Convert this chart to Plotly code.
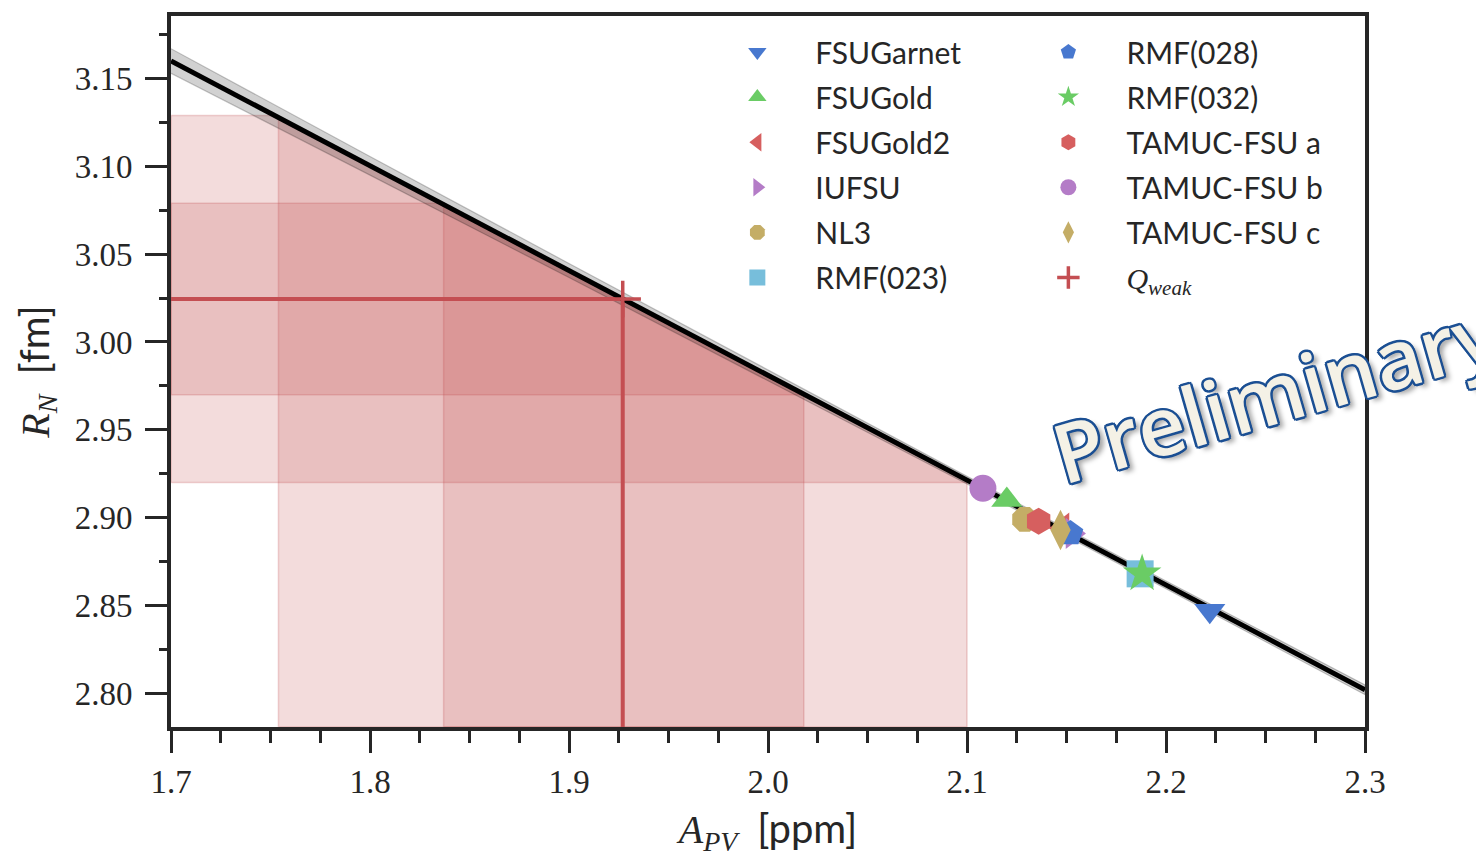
import numpy as np
import plotly.graph_objects as go

# ---------------- data ----------------
models = ["FSUGarnet", "FSUGold", "FSUGold2", "IUFSU", "NL3", "RMF(023)",
          "RMF(028)", "RMF(032)", "TAMUC-FSU a", "TAMUC-FSU b", "TAMUC-FSU c"]
apv_model = [2.222, 2.120, 2.148, 2.153, 2.129, 2.187, 2.152, 2.188, 2.136, 2.108, 2.147]
rn_model = [2.847, 2.910, 2.894, 2.891, 2.899, 2.868, 2.891, 2.868, 2.898, 2.9167, 2.893]
symbols = ["triangle-down", "triangle-up", "triangle-left", "triangle-right", "octagon",
           "square", "pentagon", "star", "hexagon", "circle", "diamond-tall"]
colors = ["#4878CF", "#6ACC65", "#D65F5F", "#B47CC7", "#C4AD66", "#77BEDB",
          "#4878CF", "#6ACC65", "#D65F5F", "#B47CC7", "#C4AD66"]

fit_x = [1.7, 1.8, 1.9, 2.0, 2.1, 2.2, 2.3]
fit_y = [3.1600, 3.1003, 3.0407, 2.9810, 2.9213, 2.8617, 2.8020]
fit_lo = [3.1530, 3.0950, 3.0367, 2.9781, 2.9191, 2.8595, 2.7992]
fit_hi = [3.1670, 3.1056, 3.0447, 2.9839, 2.9235, 2.8639, 2.8048]

qweak_apv = 1.927
qweak_rn = 3.0245
apv_1sig = [1.837, 2.018]
apv_2sig = [1.754, 2.100]
rn_1sig = [2.970, 3.079]
rn_2sig = [2.920, 3.129]

x_range = [1.7, 2.3]
y_range = [2.7808, 3.1856]

band_red = "196,78,82"
qcolor = "#C44E52"
ink = "#262626"

fig = go.Figure()


def line_at(x):
    return float(np.interp(x, fit_x, fit_y))


def x_at(y):
    return float(np.interp(y, fit_y[::-1], fit_x[::-1]))


# vertical bands (A_PV uncertainty) from bottom up to the fit line
for lo, hi in (apv_2sig, apv_1sig):
    fig.add_trace(go.Scatter(
        x=[lo, lo, hi, hi, lo],
        y=[y_range[0], line_at(lo), line_at(hi), y_range[0], y_range[0]],
        mode="lines", fill="toself", fillcolor=f"rgba({band_red},0.20)",
        line=dict(color=f"rgba({band_red},0.25)", width=1.5),
        showlegend=False, hoverinfo="skip"))

# horizontal bands (R_N uncertainty) from left up to the fit line
for lo, hi in (rn_2sig, rn_1sig):
    fig.add_trace(go.Scatter(
        x=[x_range[0], x_at(lo), x_at(hi), x_range[0], x_range[0]],
        y=[lo, lo, hi, hi, lo],
        mode="lines", fill="toself", fillcolor=f"rgba({band_red},0.20)",
        line=dict(color=f"rgba({band_red},0.25)", width=1.5),
        showlegend=False, hoverinfo="skip"))

# fit confidence band
fig.add_trace(go.Scatter(
    x=fit_x + fit_x[::-1], y=fit_hi + fit_lo[::-1],
    mode="lines", fill="toself", fillcolor="rgba(0,0,0,0.18)",
    line=dict(color="rgba(0,0,0,0.22)", width=1.2),
    showlegend=False, hoverinfo="skip"))

# Qweak cross-hair lines
fig.add_trace(go.Scatter(
    x=[x_range[0], qweak_apv, qweak_apv], y=[qweak_rn, qweak_rn, y_range[0]],
    mode="lines", line=dict(color=qcolor, width=4),
    showlegend=False, hoverinfo="skip"))

# fit line
fig.add_trace(go.Scatter(
    x=fit_x, y=fit_y, mode="lines", line=dict(color="black", width=5),
    showlegend=False, hoverinfo="skip"))

# model points
for i, (name, xa, yr, sym, col) in enumerate(zip(models, apv_model, rn_model, symbols, colors)):
    fig.add_trace(go.Scatter(
        x=[xa], y=[yr], mode="markers", name=name,
        legend="legend" if i < 6 else "legend2", legendgroup=name,
        marker=dict(symbol=sym, size=27 if sym not in ("star", "diamond-tall") else 29,
                    color=col, line=dict(width=0))))

# Qweak point
fig.add_trace(go.Scatter(
    x=[qweak_apv], y=[qweak_rn], mode="markers",
    name='<span style="font-family:Liberation Serif"><i>Q</i><sub><i>weak</i></sub></span>',
    legend="legend2", legendgroup="qweak",
    marker=dict(symbol="cross-thin", size=26, line=dict(color=qcolor, width=3.5))))

axis_common = dict(
    showline=True, linewidth=4, linecolor=ink, mirror=True,
    ticks="outside", ticklen=22, tickwidth=3, tickcolor=ink,
    showgrid=False, zeroline=False,
    tickfont=dict(family="Liberation Serif", size=33, color=ink),
)

fig.update_xaxes(
    range=x_range, dtick=0.1, tick0=1.7, tickformat=".1f",
    minor=dict(ticks="outside", ticklen=12, tickwidth=2.5, tickcolor=ink, dtick=0.025),
    title=dict(text='<i>A</i><sub><i>PV</i></sub>  <span style="font-family:Lato">[ppm]</span>',
               font=dict(family="Liberation Serif", size=40, color=ink), standoff=17),
    **axis_common)
fig.update_yaxes(
    range=y_range, dtick=0.05, tick0=2.8, tickformat=".2f",
    minor=dict(ticks="outside", ticklen=8, tickwidth=2.5, tickcolor=ink, dtick=0.025),
    title=dict(text='<i>R</i><sub><i>N</i></sub>  <span style="font-family:Lato">[fm]</span>',
               font=dict(family="Liberation Serif", size=40, color=ink), standoff=14),
    ticklabelstandoff=6,
    **axis_common)

legend_common = dict(
    font=dict(family="Lato", size=30, color=ink), bgcolor="rgba(0,0,0,0)",
    itemwidth=106, tracegroupgap=3.1, xanchor="left", yanchor="top",
    itemsizing="trace")

fig.update_layout(
    width=1476, height=857,
    margin=dict(l=171, r=111, t=12, b=129),
    plot_bgcolor="white", paper_bgcolor="white",
    legend=dict(x=0.4425, y=0.986, **legend_common),
    legend2=dict(x=0.7030, y=0.986, **legend_common),
    annotations=[dict(
        text="Preliminary", xref="paper", yref="paper", x=0.925, y=0.472,
        xanchor="center", yanchor="middle", showarrow=False, textangle=-16,
        font=dict(family="Open Sans", size=82, weight=600, color="#F4F1E6",
                  shadow=("2.5px 0 0 #1B4F93, -2.5px 0 0 #1B4F93, 0 2.5px 0 #1B4F93, 0 -2.5px 0 #1B4F93, "
                          "1.8px 1.8px 0 #1B4F93, -1.8px -1.8px 0 #1B4F93, 1.8px -1.8px 0 #1B4F93, "
                          "-1.8px 1.8px 0 #1B4F93, 5px 5px 5px rgba(0,0,0,0.35)")))],
)

fig.write_html("out.html")
